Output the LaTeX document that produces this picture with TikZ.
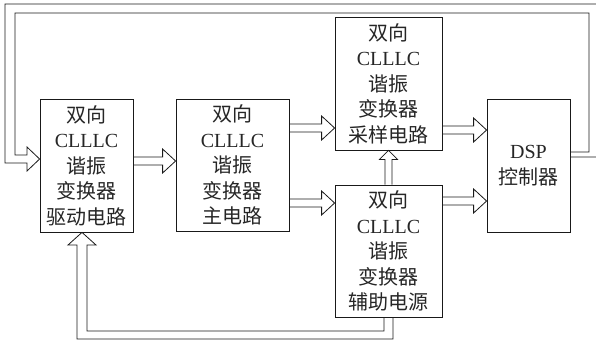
\documentclass[tikz,border=0pt]{standalone}
\usepackage{fontspec}
\setmainfont{Liberation Serif}
\newfontfamily\cjk{Noto Sans CJK SC}
\usetikzlibrary{calc}
\tikzset{
  box/.style={draw=black!90,line width=0.8pt,inner sep=0pt,align=center,text=black!85,
    font=\fontsize{20}{25.5}\selectfont},
  blk/.style={draw=black!90,line width=0.8pt,line join=miter}
}
\newcommand\harr[3]{%
  \draw[blk] ($(#1.east|-0,#3)+(0,-4)$) -- ($(#2.west|-0,#3)+(-13,-4)$)
    -- ($(#2.west|-0,#3)+(-13,-12)$) -- (#2.west|-0,#3)
    -- ($(#2.west|-0,#3)+(-13,12)$) -- ($(#2.west|-0,#3)+(-13,4)$)
    -- ($(#1.east|-0,#3)+(0,4)$);}
\begin{document}
\begin{tikzpicture}[x=1pt,y=-1pt]
\useasboundingbox (0,0) rectangle (596,341);
\clip (0,0) rectangle (596,341);
\node[box,minimum width=93pt,minimum height=133pt] (A) at (86.5,165.5)
  {{\cjk 双向}\\CLLLC\\{\cjk 谐振}\\{\cjk 变换器}\\{\cjk 驱动电路}};
\node[box,minimum width=113pt,minimum height=132pt] (B) at (232.5,165)
  {{\cjk 双向}\\CLLLC\\{\cjk 谐振}\\{\cjk 变换器}\\{\cjk 主电路}};
\node[box,minimum width=107pt,minimum height=133pt] (C) at (388.5,83.5)
  {{\cjk 双向}\\CLLLC\\{\cjk 谐振}\\{\cjk 变换器}\\{\cjk 采样电路}};
\node[box,minimum width=107pt,minimum height=132pt] (D) at (388.5,251)
  {{\cjk 双向}\\CLLLC\\{\cjk 谐振}\\{\cjk 变换器}\\{\cjk 辅助电源}};
\node[box,minimum width=83pt,minimum height=133pt] (E) at (528.5,165.5)
  {DSP\\{\cjk 控制器}};
\harr{A}{B}{161}
\harr{B}{C}{128}
\harr{B}{D}{203}
\harr{C}{E}{130}
\harr{D}{E}{201}
% D -> C
\draw[blk] ($(D.north)+(-3.5,0)$) -- ($(C.south)+(-3.5,9)$) -- ($(C.south)+(-9,9)$)
  -- (C.south) -- ($(C.south)+(9,9)$) -- ($(C.south)+(3.5,9)$) -- ($(D.north)+(3.5,0)$);
% D -> A (bottom)
\draw[blk] ($(D.south)+(-4.5,0)$) |- (87,331) -- (87,245) -- (96,245)
  -- ($(A.south)+(-4.5,0)$) -- (68,245) -- (77,245) -- (77,339) -| ($(D.south)+(4.5,0)$);
% E -> A (top feedback)
\draw[blk] ($(E.east)+(0,-13.5)$) -- (589,152) -- (589,13) -- (15,13) -- (15,155)
  -- (27,155) -- (27,147) -- (A.west|-0,159) -- (27,171) -- (27,163) -- (5,163)
  -- (5,4) -- (605,4) -- (605,157) -- ($(E.east)+(0,-8.5)$);
\end{tikzpicture}
\end{document}
